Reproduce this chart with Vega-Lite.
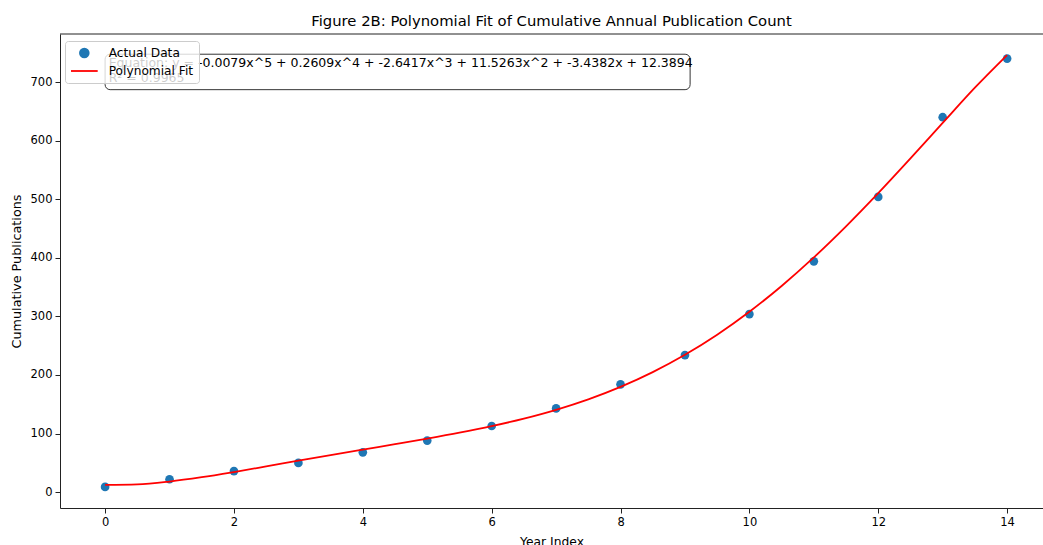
{
  "$schema": "https://vega.github.io/schema/vega-lite/v6.json",
  "width": 983,
  "height": 474,
  "autosize": {"type": "none"},
  "padding": {"left": 60, "top": 34, "right": 0, "bottom": 37},
  "background": "white",
  "config": {"font": "DejaVu Sans", "view": {"stroke": null}},
  "title": {
    "text": "Figure 2B: Polynomial Fit of Cumulative Annual Publication Count",
    "fontSize": 14.8,
    "fontWeight": "normal",
    "color": "black",
    "anchor": "middle",
    "offset": 5
  },
  "datasets": {
    "points": [
      {"year": 0, "count": 9, "series": "Actual Data"},
      {"year": 1, "count": 22, "series": "Actual Data"},
      {"year": 2, "count": 36, "series": "Actual Data"},
      {"year": 3, "count": 50, "series": "Actual Data"},
      {"year": 4, "count": 68, "series": "Actual Data"},
      {"year": 5, "count": 88, "series": "Actual Data"},
      {"year": 6, "count": 113, "series": "Actual Data"},
      {"year": 7, "count": 143, "series": "Actual Data"},
      {"year": 8, "count": 184, "series": "Actual Data"},
      {"year": 9, "count": 234, "series": "Actual Data"},
      {"year": 10, "count": 304, "series": "Actual Data"},
      {"year": 11, "count": 394, "series": "Actual Data"},
      {"year": 12, "count": 504, "series": "Actual Data"},
      {"year": 13, "count": 640, "series": "Actual Data"},
      {"year": 14, "count": 740, "series": "Actual Data"}
    ],
    "fit": [
      {"year": 0, "count": 12.39, "series": "Polynomial Fit"},
      {"year": 0.5, "count": 13.24, "series": "Polynomial Fit"},
      {"year": 1, "count": 18.09, "series": "Polynomial Fit"},
      {"year": 1.5, "count": 25.51, "series": "Polynomial Fit"},
      {"year": 2, "count": 34.41, "series": "Polynomial Fit"},
      {"year": 2.5, "count": 43.98, "series": "Polynomial Fit"},
      {"year": 3, "count": 53.7, "series": "Polynomial Fit"},
      {"year": 3.5, "count": 63.29, "series": "Polynomial Fit"},
      {"year": 4, "count": 72.69, "series": "Polynomial Fit"},
      {"year": 4.5, "count": 82.01, "series": "Polynomial Fit"},
      {"year": 5, "count": 91.52, "series": "Polynomial Fit"},
      {"year": 5.5, "count": 101.62, "series": "Polynomial Fit"},
      {"year": 6, "count": 112.8, "series": "Polynomial Fit"},
      {"year": 6.5, "count": 125.61, "series": "Polynomial Fit"},
      {"year": 7, "count": 140.65, "series": "Polynomial Fit"},
      {"year": 7.5, "count": 158.5, "series": "Polynomial Fit"},
      {"year": 8, "count": 179.8, "series": "Polynomial Fit"},
      {"year": 8.5, "count": 204.99, "series": "Polynomial Fit"},
      {"year": 9, "count": 234.55, "series": "Polynomial Fit"},
      {"year": 9.5, "count": 268.81, "series": "Polynomial Fit"},
      {"year": 10, "count": 307.94, "series": "Polynomial Fit"},
      {"year": 10.5, "count": 351.95, "series": "Polynomial Fit"},
      {"year": 11, "count": 400.68, "series": "Polynomial Fit"},
      {"year": 11.5, "count": 453.69, "series": "Polynomial Fit"},
      {"year": 12, "count": 510.31, "series": "Polynomial Fit"},
      {"year": 12.5, "count": 569.57, "series": "Polynomial Fit"},
      {"year": 13, "count": 630.17, "series": "Polynomial Fit"},
      {"year": 13.5, "count": 690.39, "series": "Polynomial Fit"},
      {"year": 14, "count": 746, "series": "Polynomial Fit"}
    ],
    "annot": [
      {"eq": "Equation: y = -0.0079x^5 + 0.2609x^4 + -2.6417x^3 + 11.5263x^2 + -3.4382x + 12.3894", "r2": "R² = 0.9965"}
    ]
  },
  "encoding": {
    "x": {
      "type": "quantitative",
      "scale": {"domain": [-0.7, 14.557], "nice": false, "zero": false},
      "axis": {
        "values": [0, 2, 4, 6, 8, 10, 12, 14],
        "title": "Year Index",
        "grid": false,
        "domainColor": "#222222",
        "tickColor": "#222222",
        "tickSize": 5,
        "labelFontSize": 11.5,
        "labelColor": "black",
        "labelPadding": 3,
        "titleFontSize": 12.3,
        "titleFontWeight": "normal",
        "titleColor": "black",
        "titlePadding": 8
      }
    },
    "y": {
      "type": "quantitative",
      "scale": {"domain": [-27, 782], "nice": false, "zero": false},
      "axis": {
        "values": [0, 100, 200, 300, 400, 500, 600, 700],
        "title": "Cumulative Publications",
        "grid": false,
        "domainColor": "#222222",
        "tickColor": "#222222",
        "tickSize": 5,
        "labelFontSize": 11.5,
        "labelColor": "black",
        "labelPadding": 3,
        "titleFontSize": 12.8,
        "titleFontWeight": "normal",
        "titleColor": "black",
        "titlePadding": 7
      }
    }
  },
  "layer": [
    {
      "data": {"name": "annot"},
      "mark": {"type": "rect", "fill": "white", "stroke": "#333333", "strokeWidth": 1, "cornerRadius": 5},
      "encoding": {
        "x": {"datum": 0},
        "x2": {"datum": 9.08},
        "y": {"datum": 747.5},
        "y2": {"datum": 687}
      }
    },
    {
      "data": {"name": "annot"},
      "mark": {"type": "text", "align": "left", "baseline": "middle", "fontSize": 12.5, "color": "black"},
      "encoding": {
        "x": {"datum": 0.055},
        "y": {"datum": 732.5},
        "text": {"field": "eq"}
      }
    },
    {
      "data": {"name": "annot"},
      "mark": {"type": "text", "align": "left", "baseline": "middle", "fontSize": 12.5, "color": "black"},
      "encoding": {
        "x": {"datum": 0.055},
        "y": {"datum": 707},
        "text": {"field": "r2"}
      }
    },
    {
      "data": {"name": "points"},
      "mark": {"type": "circle", "size": 75, "opacity": 1},
      "encoding": {
        "x": {"field": "year"},
        "y": {"field": "count"},
        "color": {
          "field": "series",
          "type": "nominal",
          "scale": {"domain": ["Actual Data", "Polynomial Fit"], "range": ["#1f77b4", "#ff0000"]},
          "legend": {
            "title": null,
            "orient": "none",
            "legendX": 5,
            "legendY": 7,
            "padding": 5,
            "fillColor": "rgba(255,255,255,0.8)",
            "strokeColor": "#cccccc",
            "cornerRadius": 3,
            "labelFontSize": 12.2,
            "labelColor": "black",
            "labelOffset": 24.7,
            "rowPadding": 3,
            "symbolSize": 144,
            "symbolOpacity": 1,
            "symbolStrokeWidth": 1.8,
            "symbolType": {"expr": "datum.value === 'Actual Data' ? 'M 0.49,0 A 0.73,0.73 0 1,0 1.95,0 A 0.73,0.73 0 1,0 0.49,0 Z' : 'M -1,0 L 3.45,0'"},
            "symbolStrokeColor": {"expr": "datum.value === 'Actual Data' ? 'transparent' : '#ff0000'"}
          }
        }
      }
    },
    {
      "data": {"name": "fit"},
      "mark": {"type": "line", "strokeWidth": 1.8, "interpolate": "monotone"},
      "encoding": {
        "x": {"field": "year"},
        "y": {"field": "count"},
        "color": {"field": "series", "type": "nominal"}
      }
    },
    {
      "data": {"name": "annot"},
      "mark": {"type": "rule", "color": "#222222", "strokeWidth": 1},
      "encoding": {"y": {"datum": 782}}
    }
  ]
}
